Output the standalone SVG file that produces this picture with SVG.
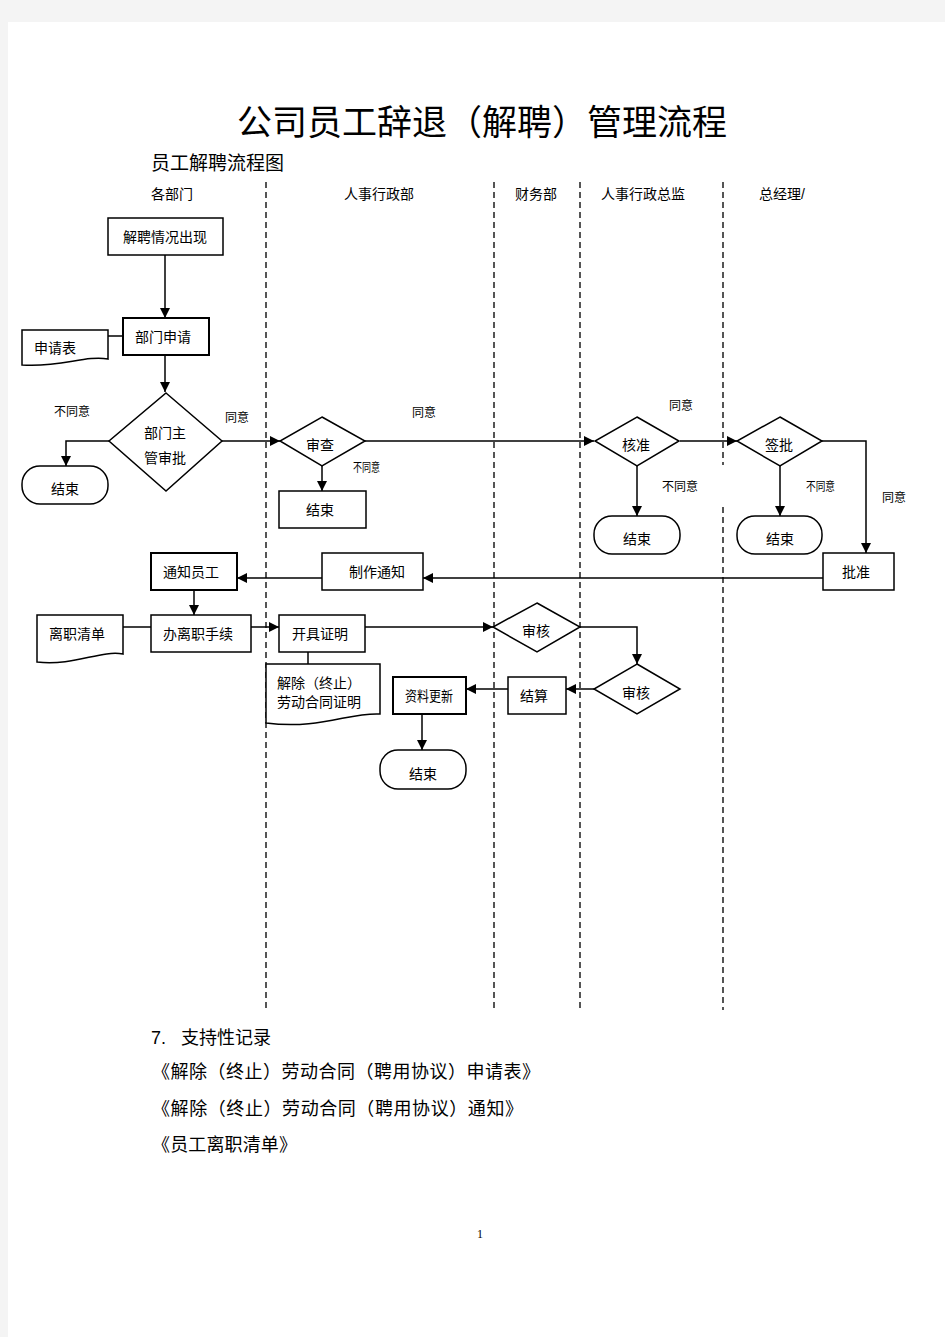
<svg xmlns="http://www.w3.org/2000/svg" width="945" height="1337" viewBox="0 0 945 1337">
<style>
.t{font-family:"Liberation Sans","Noto Sans CJK SC",sans-serif;font-size:14px;fill:#000}
.s{font-family:"Liberation Sans","Noto Sans CJK SC",sans-serif;font-size:12px;fill:#000}
.h{font-family:"Liberation Sans","Noto Sans CJK SC",sans-serif;font-size:14px;fill:#000}
.big{font-family:"Liberation Sans","Noto Sans CJK SC",sans-serif;font-size:18px;fill:#000}
.serif{font-family:"Liberation Serif","Noto Sans CJK SC",serif;fill:#000}
.box{fill:#fff;stroke:#000;stroke-width:1.5}
.bold{fill:#fff;stroke:#000;stroke-width:2}
.ln{fill:none;stroke:#000;stroke-width:1.5}
.arr{fill:none;stroke:#000;stroke-width:1.5;marker-end:url(#ah)}
.lane{stroke:#555;stroke-width:2;stroke-dasharray:6,4;fill:none}
</style>
<defs>
<marker id="ah" viewBox="0 0 10 10" refX="10" refY="5" markerWidth="10" markerHeight="10" markerUnits="userSpaceOnUse" orient="auto">
<path d="M0,0 L10,5 L0,10 Z" fill="#000"/>
</marker>
</defs>
<rect x="0" y="0" width="945" height="1337" fill="#f4f4f4"/>
<rect x="8" y="22" width="937" height="1315" fill="#fff"/>

<text class="serif" x="482" y="135" font-size="35" text-anchor="middle">公司员工辞退（解聘）管理流程</text>
<text class="big" x="151" y="170" style="font-size:19px">员工解聘流程图</text>

<g id="lanes">
<text class="h" x="151" y="199">各部门</text>
<text class="h" x="379" y="199" text-anchor="middle">人事行政部</text>
<text class="h" x="536" y="199" text-anchor="middle">财务部</text>
<text class="h" x="643" y="199" text-anchor="middle">人事行政总监</text>
<text class="h" x="759" y="199">总经理/</text>
<line class="lane" x1="266" y1="182" x2="266" y2="1010"/>
<line class="lane" x1="494" y1="182" x2="494" y2="1010"/>
<line class="lane" x1="580" y1="182" x2="580" y2="1010"/>
<line class="lane" x1="723" y1="182" x2="723" y2="465"/>
<line class="lane" x1="723" y1="507" x2="723" y2="1010"/>
</g>

<g id="connectors">
<line class="arr" x1="165" y1="255" x2="165" y2="318"/>
<line class="ln" x1="108" y1="336" x2="123" y2="336"/>
<line class="arr" x1="165" y1="355" x2="165" y2="392"/>
<polyline class="arr" points="109,441 66,441 66,466"/>
<line class="arr" x1="222" y1="441" x2="280" y2="441"/>
<line class="arr" x1="322" y1="466" x2="322" y2="491"/>
<line class="arr" x1="365" y1="441" x2="594" y2="441"/>
<line class="arr" x1="680" y1="441" x2="737" y2="441"/>
<line class="arr" x1="637" y1="466" x2="637" y2="516"/>
<line class="arr" x1="780" y1="466" x2="780" y2="516"/>
<polyline class="arr" points="822,441 866,441 866,553"/>
<line class="arr" x1="823" y1="578" x2="423" y2="578"/>
<line class="arr" x1="322" y1="578" x2="237" y2="578"/>
<line class="arr" x1="194" y1="590" x2="194" y2="615"/>
<line class="ln" x1="123" y1="627" x2="151" y2="627"/>
<line class="arr" x1="251" y1="627" x2="279" y2="627"/>
<line class="arr" x1="365" y1="627" x2="493" y2="627"/>
<line class="ln" x1="308" y1="652" x2="308" y2="664"/>
<polyline class="arr" points="580,627 637,627 637,664"/>
<line class="arr" x1="594" y1="689" x2="566" y2="689"/>
<line class="arr" x1="508" y1="689" x2="466" y2="689"/>
<line class="arr" x1="422" y1="714" x2="422" y2="750"/>
</g>

<g id="labels">
<text class="s" x="72" y="416" text-anchor="middle">不同意</text>
<text class="s" x="237" y="422" text-anchor="middle">同意</text>
<text class="s" x="353" y="472" textLength="27" lengthAdjust="spacingAndGlyphs">不同意</text>
<text class="s" x="424" y="417" text-anchor="middle">同意</text>
<text class="s" x="681" y="410" text-anchor="middle">同意</text>
<text class="s" x="680" y="491" text-anchor="middle">不同意</text>
<text class="s" x="806" y="491" textLength="29" lengthAdjust="spacingAndGlyphs">不同意</text>
<text class="s" x="894" y="502" text-anchor="middle">同意</text>
</g>

<g id="n-start">
<rect class="box" x="108" y="218" width="115" height="37"/>
<text class="t" x="165" y="242" text-anchor="middle">解聘情况出现</text>
</g>
<g id="n-apply">
<rect class="bold" x="123" y="318" width="86" height="37"/>
<text class="t" x="163" y="342" text-anchor="middle">部门申请</text>
</g>
<g id="n-applyform">
<path class="box" d="M22,330 H108 V359 C85,355 60,368 22,365 Z"/>
<text class="t" x="34" y="353">申请表</text>
</g>
<g id="n-deptapprove">
<polygon class="box" points="166,393 222,441 166,491 109,441"/>
<text class="t" x="165" y="438" text-anchor="middle">部门主</text>
<text class="t" x="165" y="463" text-anchor="middle">管审批</text>
</g>
<g id="n-end1">
<rect class="box" x="22" y="466" width="86" height="38" rx="18"/>
<text class="t" x="65" y="494" text-anchor="middle">结束</text>
</g>
<g id="n-review">
<polygon class="box" points="322,417 365,441 322,466 280,441"/>
<text class="t" x="320" y="450" text-anchor="middle">审查</text>
</g>
<g id="n-end2">
<rect class="box" x="279" y="491" width="87" height="37"/>
<text class="t" x="320" y="515" text-anchor="middle">结束</text>
</g>
<g id="n-verify">
<polygon class="box" points="637,417 679,441 637,466 595,441"/>
<text class="t" x="636" y="450" text-anchor="middle">核准</text>
</g>
<g id="n-sign">
<polygon class="box" points="780,417 822,441 780,466 737,441"/>
<text class="t" x="779" y="450" text-anchor="middle">签批</text>
</g>
<g id="n-end3">
<rect class="box" x="594" y="516" width="86" height="38" rx="18"/>
<text class="t" x="637" y="544" text-anchor="middle">结束</text>
</g>
<g id="n-end4">
<rect class="box" x="737" y="516" width="85" height="38" rx="18"/>
<text class="t" x="780" y="544" text-anchor="middle">结束</text>
</g>
<g id="n-approve">
<rect class="box" x="823" y="553" width="71" height="37"/>
<text class="t" x="856" y="577" text-anchor="middle">批准</text>
</g>
<g id="n-makenotice">
<rect class="box" x="322" y="553" width="101" height="37"/>
<text class="t" x="377" y="577" text-anchor="middle">制作通知</text>
</g>
<g id="n-notify">
<rect class="bold" x="151" y="553" width="86" height="37"/>
<text class="t" x="191" y="577" text-anchor="middle">通知员工</text>
</g>
<g id="n-procedure">
<rect class="box" x="151" y="615" width="100" height="37"/>
<text class="t" x="198" y="639" text-anchor="middle">办离职手续</text>
</g>
<g id="n-leavelist">
<path class="box" d="M37,615 H123 V654 C100,650 75,666 37,662 Z"/>
<text class="t" x="49" y="639">离职清单</text>
</g>
<g id="n-cert">
<rect class="box" x="279" y="615" width="86" height="37"/>
<text class="t" x="320" y="639" text-anchor="middle">开具证明</text>
</g>
<g id="n-certdoc">
<path class="box" d="M266,664 H380 V714 C350,712 320,730 266,723 Z"/>
<text class="t" x="277" y="688">解除（终止）</text>
<text class="t" x="277" y="707">劳动合同证明</text>
</g>
<g id="n-audit1">
<polygon class="box" points="537,603 580,627 537,652 493,627"/>
<text class="t" x="536" y="636" text-anchor="middle">审核</text>
</g>
<g id="n-audit2">
<polygon class="box" points="637,664 680,689 637,714 594,689"/>
<text class="t" x="636" y="698" text-anchor="middle">审核</text>
</g>
<g id="n-settle">
<rect class="box" x="508" y="677" width="58" height="37"/>
<text class="t" x="534" y="701" text-anchor="middle">结算</text>
</g>
<g id="n-update">
<rect class="bold" x="393" y="677" width="73" height="37"/>
<text class="t" x="405" y="701" textLength="48" lengthAdjust="spacingAndGlyphs">资料更新</text>
</g>
<g id="n-end5">
<rect class="box" x="380" y="750" width="86" height="39" rx="18"/>
<text class="t" x="423" y="779" text-anchor="middle">结束</text>
</g>

<g id="records">
<text class="big" x="151" y="1044">7.</text>
<text class="big" x="181" y="1044">支持性记录</text>
<text class="serif" x="152" y="1078" font-size="18" textLength="388" lengthAdjust="spacing">《解除（终止）劳动合同（聘用协议）申请表》</text>
<text class="serif" x="152" y="1115" font-size="18" textLength="371" lengthAdjust="spacing">《解除（终止）劳动合同（聘用协议）通知》</text>
<text class="serif" x="152" y="1151" font-size="18" textLength="145" lengthAdjust="spacing">《员工离职清单》</text>
<text class="serif" x="480" y="1238" font-size="12" text-anchor="middle">1</text>
</g>
</svg>
